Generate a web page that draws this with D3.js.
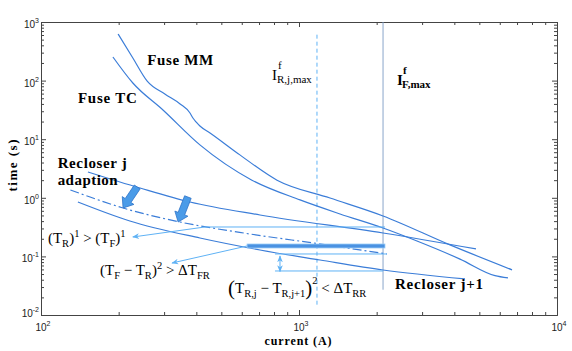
<!DOCTYPE html>
<html>
<head>
<meta charset="utf-8">
<script src="https://cdn.jsdelivr.net/npm/d3@7"></script>
<style>
  body { margin: 0; background: #fff; }
  svg { display: block; }
</style>
</head>
<body>
<svg id="chart" width="572" height="351"></svg>
<script>
// ---- data: [current (A), time (s)] ----
const fuseMM = [[199, 624], [227, 243], [258, 98], [302, 59], [346, 40], [378, 28], [388, 23],
  [399, 19.7], [413, 16.8], [452, 12.8], [590, 5.4], [822, 2.0], [1319, 0.99], [2117, 0.49],
  [3848, 0.157], [6694, 0.059]];
const fuseTC = [[190, 253], [227, 91], [297, 31.5], [413, 8.0], [657, 2.0], [1009, 0.92],
  [1442, 0.53], [2117, 0.305], [2866, 0.183], [4207, 0.09], [5750, 0.047], [6457, 0.043]];
const recloserJ = [[152, 2.76], [242, 1.47], [378, 0.848], [706, 0.509], [2117, 0.251], [4853, 0.134]];
const recloserJAdapted = [[130, 1.36], [155, 1.03], [208, 0.67], [346, 0.386], [646, 0.241],
  [1206, 0.163], [2193, 0.11]];
const recloserJ1 = [[139, 0.848], [221, 0.402], [413, 0.206], [706, 0.1286], [1206, 0.0868],
  [2117, 0.0586], [4399, 0.0412]];

// vertical limits: current, [t bottom, t top]
const iRjMax = { current: 1174, span: [0.015, 650] };
const iFMax = { current: 2117, span: [0.027, 1000] };

// annotations
const trArrow = [[2154, 0.3175], [432, 0.3175], [227, 0.2144]];
const tfrArrow = [[629, 0.1505], [322, 0.0772]];
const rrLevels = [[[807, 0.11], [2193, 0.11]], [[807, 0.0564], [2117, 0.0564]]];
const rrArrow = [[844, 0.1016], [844, 0.0552]];
const marginBar = { from: 629, to: 2154, time: 0.1505 };
const adaptArrows = [[[236, 1.53], [208, 0.67]], [[371, 1.03], [340, 0.386]]];

// axis ticks
const xMajor = [100, 1000, 10000];
const xExp = ["2", "3", "4"];
const yMajor = [0.01, 0.1, 1, 10, 100, 1000];
const yExp = ["-2", "-1", "0", "1", "2", "3"];

// labels
const labels = [
  { text: "Fuse MM", at: [258, 184.6], len: 66 },
  { text: "Fuse TC", at: [139, 41.5], len: 59 },
  { text: "Recloser j", at: [116, 3.23], len: 69 },
  { text: "adaption", at: [116, 1.65], len: 60 },
  { text: "Recloser j+1", at: [2355, 0.0278], len: 88 }
];
const mathLabels = [
  { at: [106.4, 0.169], parts: [{ t: "(T" }, { t: "R", sub: 1 }, { t: ")" }, { t: "1", sup: 1 },
    { t: " > (T" }, { t: "F", sub: 1 }, { t: ")" }, { t: "1", sup: 1 }] },
  { at: [169.3, 0.0482], parts: [{ t: "(T" }, { t: "F", sub: 1 }, { t: " − T" }, { t: "R", sub: 1 },
    { t: ")" }, { t: "2", sup: 1 }, { t: " > ΔT" }, { t: "FR", sub: 1 }] },
  { at: [530.7, 0.0237], parts: [{ t: "(", big: 1 }, { t: "T" }, { t: "R,j", sub: 1 }, { t: " − T" },
    { t: "R,j+1", sub: 1 }, { t: ")", big: 1 }, { t: "2", sup: 1, lift: 9 }, { t: " < ΔT" }, { t: "RR", sub: 1 }] }
];
const limitLabels = [
  { at: [786, 102.4], sup: "f", sub: "R,j,max", weight: "normal" },
  { at: [2398, 84.1], sup: "f", sub: "F,max", weight: "bold" }
];

// ---- layout ----
const W = 572, H = 351;
const margin = { top: 22, right: 15, bottom: 36, left: 41 };
const width = W - margin.left - margin.right;
const height = H - margin.top - margin.bottom;

const curveBlue = "#3b7dd8";
const lightBlue = "#5fb2f5";
const serif = "'Liberation Serif', 'Times New Roman', serif";

const svg = d3.select("#chart");
const x = d3.scaleLog().domain([100, 10000]).range([0, width]);
const y = d3.scaleLog().domain([0.01, 1000]).range([height, 0]);

const defs = svg.append("defs");
defs.append("marker")
  .attr("id", "head")
  .attr("viewBox", "0 0 10 10")
  .attr("refX", 9).attr("refY", 5)
  .attr("markerWidth", 7).attr("markerHeight", 7)
  .attr("orient", "auto-start-reverse")
  .append("path")
  .attr("d", "M0,1 L10,5 L0,9 L3,5 z")
  .attr("fill", lightBlue);

const g = svg.append("g").attr("transform", `translate(${margin.left},${margin.top})`);

// minor ticks
function minors(lo, hi) {
  const out = [];
  for (let e = lo; e < hi; e++) for (let k = 2; k < 10; k++) out.push(+(k * Math.pow(10, e)).toPrecision(3));
  return out;
}
const xMinor = minors(2, 4);
const yMinor = minors(-2, 3);

function drawAxis(axis, transform) {
  const a = g.append("g").attr("transform", transform).call(axis);
  a.selectAll("path,line").attr("stroke", "#444");
  a.selectAll("text").remove();
  return a;
}
drawAxis(d3.axisBottom(x).tickValues(xMajor).tickSize(-5).tickSizeOuter(0), `translate(0,${height})`);
drawAxis(d3.axisBottom(x).tickValues(xMinor).tickSize(-3).tickSizeOuter(0), `translate(0,${height})`);
drawAxis(d3.axisTop(x).tickValues(xMajor).tickSize(-5).tickSizeOuter(0), "translate(0,0)");
drawAxis(d3.axisTop(x).tickValues(xMinor).tickSize(-3).tickSizeOuter(0), "translate(0,0)");
drawAxis(d3.axisLeft(y).tickValues(yMajor).tickSize(-5).tickSizeOuter(0), "translate(0,0)");
drawAxis(d3.axisLeft(y).tickValues(yMinor).tickSize(-3).tickSizeOuter(0), "translate(0,0)");
drawAxis(d3.axisRight(y).tickValues(yMajor).tickSize(-5).tickSizeOuter(0), `translate(${width},0)`);
drawAxis(d3.axisRight(y).tickValues(yMinor).tickSize(-3).tickSizeOuter(0), `translate(${width},0)`);

// tick labels 10^n
const tickFont = "'Liberation Sans', Arial, sans-serif";
xMajor.forEach((v, i) => {
  const t = g.append("text").attr("x", x(v) + 2).attr("y", height + 16)
    .attr("text-anchor", "middle").attr("font-family", tickFont).attr("font-size", 10).attr("fill", "#222");
  t.append("tspan").text("10");
  t.append("tspan").attr("dy", -5).attr("font-size", 7).text(xExp[i]);
});
yMajor.forEach((v, i) => {
  const t = g.append("text").attr("x", -2).attr("y", y(v) + (i === 0 ? 2 : 6))
    .attr("text-anchor", "end").attr("font-family", tickFont).attr("font-size", 10).attr("fill", "#222");
  t.append("tspan").text("10");
  t.append("tspan").attr("dy", -5).attr("font-size", 7).text(yExp[i]);
});

// axis titles
svg.append("text")
  .attr("transform", `translate(17,${margin.top + height / 2 - 3}) rotate(-90)`)
  .attr("text-anchor", "middle").attr("font-family", serif).attr("font-weight", "bold")
  .attr("font-size", 13).attr("textLength", 52).attr("lengthAdjust", "spacing")
  .text("time (s)");
svg.append("text")
  .attr("x", margin.left + x(1000) - 1).attr("y", 345)
  .attr("text-anchor", "middle").attr("font-family", serif).attr("font-weight", "bold")
  .attr("font-size", 12).attr("textLength", 67).attr("lengthAdjust", "spacing")
  .text("current (A)");

// vertical limit lines
g.append("line")
  .attr("x1", x(iRjMax.current)).attr("x2", x(iRjMax.current))
  .attr("y1", y(iRjMax.span[0])).attr("y2", y(iRjMax.span[1]))
  .attr("stroke", lightBlue).attr("stroke-dasharray", "4,3").attr("stroke-width", 1);
g.append("line")
  .attr("x1", x(iFMax.current)).attr("x2", x(iFMax.current))
  .attr("y1", y(iFMax.span[0])).attr("y2", y(iFMax.span[1]))
  .attr("stroke", "#7d9cc4").attr("stroke-width", 0.9);

// curves
const line = d3.line().x(d => x(d[0])).y(d => y(d[1])).curve(d3.curveMonotoneX);
const straight = d3.line().x(d => x(d[0])).y(d => y(d[1]));
[fuseMM, fuseTC, recloserJ, recloserJ1].forEach(s => {
  g.append("path").attr("d", line(s)).attr("fill", "none")
    .attr("stroke", curveBlue).attr("stroke-width", 1.2);
});
g.append("path").attr("d", line(recloserJAdapted)).attr("fill", "none")
  .attr("stroke", curveBlue).attr("stroke-width", 1.2).attr("stroke-dasharray", "9,3,2,3");

// light annotation lines
g.append("path").attr("d", straight(trArrow)).attr("fill", "none")
  .attr("stroke", lightBlue).attr("marker-end", "url(#head)");
g.append("path").attr("d", straight(tfrArrow)).attr("fill", "none")
  .attr("stroke", lightBlue).attr("marker-end", "url(#head)");
rrLevels.forEach(l => {
  g.append("path").attr("d", straight(l)).attr("fill", "none").attr("stroke", lightBlue);
});
g.append("path").attr("d", straight(rrArrow)).attr("fill", "none")
  .attr("stroke", lightBlue).attr("marker-start", "url(#head)").attr("marker-end", "url(#head)");

// margin bar
g.append("rect")
  .attr("x", x(marginBar.from)).attr("width", x(marginBar.to) - x(marginBar.from))
  .attr("y", y(marginBar.time) - 2).attr("height", 4)
  .attr("fill", "#4a92e2").attr("stroke", "#9ccdf8").attr("stroke-width", 0.8);

// block arrows for the adaption
adaptArrows.forEach(([from, to]) => {
  const tx = x(from[0]), ty = y(from[1]), px = x(to[0]), py = y(to[1]);
  const len = Math.hypot(px - tx, py - ty);
  const ux = (px - tx) / len, uy = (py - ty) / len;
  const nx = -uy, ny = ux;
  const hx = px - ux * 9, hy = py - uy * 9;
  const pts = [
    [tx + nx * 3.5, ty + ny * 3.5], [hx + nx * 3.5, hy + ny * 3.5], [hx + nx * 7, hy + ny * 7],
    [px, py], [hx - nx * 7, hy - ny * 7], [hx - nx * 3.5, hy - ny * 3.5], [tx - nx * 3.5, ty - ny * 3.5]
  ];
  g.append("polygon").attr("points", pts.map(p => p.join(",")).join(" "))
    .attr("fill", "#4a9be8").attr("stroke", "#2f74c8").attr("stroke-width", 0.8);
});

// text labels
labels.forEach(l => {
  g.append("text").attr("x", x(l.at[0])).attr("y", y(l.at[1]))
    .attr("font-family", serif).attr("font-weight", "bold").attr("font-size", 15)
    .attr("textLength", l.len).attr("lengthAdjust", "spacing")
    .text(l.text);
});

function richText(px, py, parts, size) {
  const t = g.append("text").attr("x", px).attr("y", py)
    .attr("font-family", serif).attr("font-size", size).style("white-space", "pre");
  let shift = 0;
  parts.forEach(p => {
    const level = p.sub ? size * 0.28 : p.sup ? -(p.lift || size * 0.42) : (p.big ? 1.5 : 0);
    const fs = p.big ? size * 1.4 : (p.sub || p.sup) ? size * 0.7 : size;
    t.append("tspan").attr("dy", level - shift).attr("font-size", fs).text(p.t);
    shift = level;
  });
}
mathLabels.forEach(m => richText(x(m.at[0]), y(m.at[1]), m.parts, 15));

limitLabels.forEach(l => {
  const px = x(l.at[0]), py = y(l.at[1]);
  g.append("text").attr("x", px).attr("y", py).attr("font-family", serif)
    .attr("font-size", 15).attr("font-weight", l.weight).text("I");
  g.append("text").attr("x", px + 6).attr("y", py - 11).attr("font-family", serif)
    .attr("font-size", 11).attr("font-weight", l.weight).text(l.sup);
  g.append("text").attr("x", px + 5).attr("y", py + 3).attr("font-family", serif)
    .attr("font-size", 11).attr("font-weight", l.weight).text(l.sub);
});
</script>
</body>
</html>
